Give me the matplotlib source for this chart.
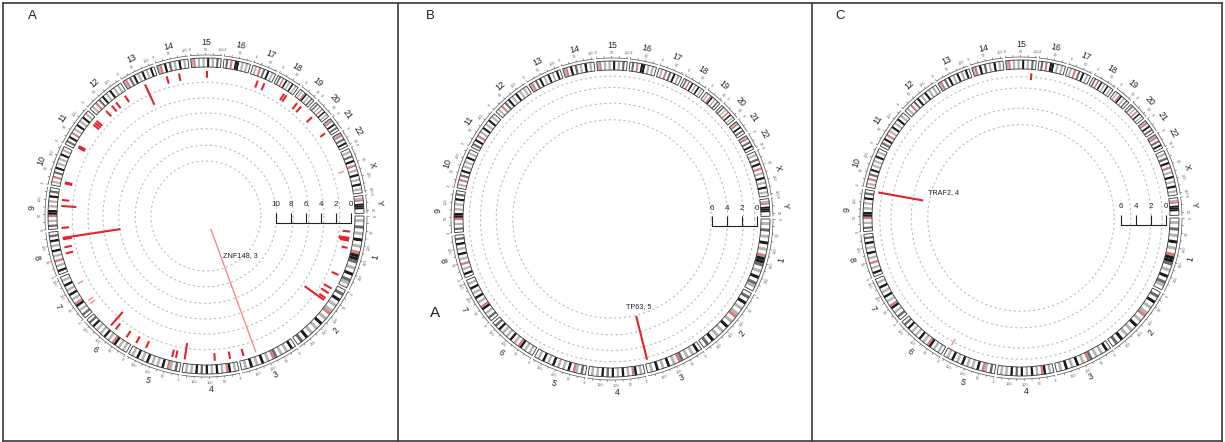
import matplotlib.pyplot as plt
import numpy as np
from matplotlib.lines import Line2D

plt.rcParams['font.family'] = ['Liberation Sans', 'DejaVu Sans']

# hg19 chromosome sizes (Mb)
CHROMS = [str(i) for i in range(1, 23)] + ["X", "Y"]
CHROM_MB = [249.3, 243.2, 198.0, 191.2, 180.9, 171.1, 159.1, 146.4, 141.2, 135.5,
            135.0, 133.9, 115.2, 107.3, 102.5, 90.4, 81.2, 78.1, 59.1, 63.0,
            48.1, 51.3, 155.3, 59.4]
# rough G-band pattern per chromosome (. white, g gray, d dark, k black, r centromere)
BANDS = [".g.d.g.k.g.rkkd.g.k.dg.", ".d.k.g.gr.g.k.g.g.k.d.", ".k.g.g.dr.g.k.g.k.g.",
         ".g.kr.g.k.g.k.d.k.g.g.", ".d.gr.k.g.g.k.g.k.g.", ".g.g.kr.g.k.g.g.k.d.",
         ".d.g.kr.g.k.g.k.g.", ".k.g.r.g.k.g.k.d.", ".d.g.rkk.g.g.k.d.", ".g.r.d.k.g.g.k.g.",
         ".d.k.r.g.k.g.k.g.", ".g.r.d.k.g.k.g.g.", "gr.d.k.g.k.g.k.", "gr.k.d.g.k.g.",
         "gr.g.g.k.g.d.", ".d.r.kk.g.g.", ".g.r.d.k.g.", ".d.r.k.g.k.g.", ".g.rk.g.d.",
         ".d.g.r.k.g.", "gr.k.d.", "gr.d.k.", ".g.d.k.r.g.k.g.k.g.", ".gr.kkk.."]
BAND_COLORS = {".": "white", "g": "#b4b4b4", "d": "#6a6a6a", "k": "#1c1c1c", "r": "#d87a7a"}

# panel A: recurrent hits (chromosome, position Mb, value)
A_CHR = ["1", "1", "1", "1", "1", "1", "2", "2", "2", "2", "3", "4", "4", "4",
         "5", "5", "5", "5", "6", "6", "6", "8", "8", "8", "8", "9", "9", "9",
         "10", "10", "11", "11", "11", "11", "11", "12", "12", "12", "12", "13",
         "14", "14", "15", "17", "17", "18", "18", "19", "19", "20", "21"]
A_POS = [57, 80, 85, 90, 117, 221, 18, 38, 59, 68, 180, 23, 79, 189,
         21, 35, 136, 176, 27, 76, 98, 63, 86, 116, 121, 2, 82, 104,
         15, 19, 10, 16, 110, 119, 128, 34, 62, 82, 122, 63,
         23, 69, 55, 33, 59, 50, 60, 21, 40, 27, 31]
A_VAL = [1.0, 1.4, 1.4, 1.2, 0.8, 1.0, 1.2, 1.2, 1.0, 3.2, 1.0, 1.0, 1.0, 2.2,
         1.0, 1.0, 1.0, 1.0, 1.0, 1.0, 2.4, 1.0, 1.0, 1.2, 7.8, 1.0, 2.0, 1.0,
         1.0, 1.0, 1.0, 1.0, 1.0, 1.0, 1.0, 1.0, 1.0, 1.0, 1.0, 3.0,
         1.0, 1.0, 0.9, 1.0, 1.0, 1.0, 1.0, 1.0, 1.0, 1.0, 0.8]
A_WEAK_CHR = ["3", "7", "7", "7", "X"]
A_WEAK_POS = [133, 27, 41, 113, 68]
A_WEAK_VAL = [17.5, 0.8, 0.8, 0.8, 0.8]

B_CHR, B_POS, B_VAL = ["3"], [189.3], [6.0]
B_WEAK_CHR, B_WEAK_POS, B_WEAK_VAL = [], [], []

C_CHR, C_POS, C_VAL = ["9", "15"], [139.0, 89], [6.1, 0.9]
C_WEAK_CHR, C_WEAK_POS, C_WEAK_VAL = ["5"], [174], [1.0]

# labelled genes: text, chromosome, position, value
A_GENE = ("ZNF148, 3", "3", 133, 17.5)
B_GENE = ("TP63, 5", "3", 189.3, 6.0)
C_GENE = ("TRAF2, 4", "9", 139.0, 6.1)

A_SCALE = [0, 2, 4, 6, 8, 10]
B_SCALE = [0, 2, 4, 6]
C_SCALE = [0, 2, 4, 6]

A_RINGS = [1.5, 3.6, 5.6, 7.7, 9.9, 12.0]
B_RINGS = [0.3, 1.8, 3.9, 6.1]
C_RINGS = [0.5, 2.0, 4.7, 6.9]

# geometry (pixels)
W, H = 1225, 442
RMAX = 200
R0 = 145.0        # radius of value 0
UNIT = 7.5        # pixels per value unit
IDEO_R, IDEO_H = 149.0, 9.0
GAP = 1.0

deg_per_mb = (360 - GAP * len(CHROMS)) / sum(CHROM_MB)
start_deg = np.concatenate([[0], np.cumsum(np.array(CHROM_MB) * deg_per_mb + GAP)[:-1]])


def theta(ch, mb):
    i = CHROMS.index(ch)
    return np.deg2rad(start_deg[i] + mb * deg_per_mb)


def rad(v):
    return R0 - np.asarray(v, dtype=float) * UNIT


def label_rot(d):
    d = d % 360
    return 90 - d if 0 < d < 180 else -90 - d


fig = plt.figure(figsize=(W / 100, H / 100), dpi=100)


def panel(cx, cy, hits, weak, gene, gene_off, gene_ha, scale, rings, letter, letter_xy):
    rect = [(cx - RMAX) / W, (H - cy - RMAX) / H, 2 * RMAX / W, 2 * RMAX / H]
    ax = fig.add_axes(rect, projection='polar')
    ax.set_theta_zero_location('E')
    ax.set_theta_direction(-1)
    ax.set_ylim(0, RMAX)
    ax.axis('off')

    # dashed guide circles
    tt = np.linspace(0, 2 * np.pi, 500)
    for v in rings:
        ax.plot(tt, np.full_like(tt, rad(v)), color='#bdbdbd', lw=0.8,
                ls=(0, (2.0, 2.4)), zorder=1)

    # ideogram
    for i, ch in enumerate(CHROMS):
        t0 = np.deg2rad(start_deg[i])
        w = np.deg2rad(CHROM_MB[i] * deg_per_mb)
        pat = BANDS[i]
        seg = w / len(pat)
        ax.bar(t0 + np.arange(len(pat)) * seg, IDEO_H, width=seg, bottom=IDEO_R,
               align='edge', color=[BAND_COLORS[c] for c in pat], linewidth=0, zorder=2)
        ax.bar(t0, IDEO_H, width=w, bottom=IDEO_R, align='edge', fill=False,
               edgecolor='#333333', linewidth=0.6, zorder=3)
        # outer position scale
        arc = np.linspace(t0, t0 + w, 60)
        ax.plot(arc, np.full_like(arc, 161), color='#555555', lw=0.5, zorder=3)
        mbs = np.arange(0, CHROM_MB[i], 25)
        ax.vlines([theta(ch, m) for m in mbs], 161, 163, color='#555555', lw=0.4)
        for m in mbs[::2]:
            tm = theta(ch, m)
            ax.text(tm, 166.5, f"{int(m)}", fontsize=2.8, color='#666666',
                    ha='center', va='center', rotation=label_rot(np.rad2deg(tm)),
                    rotation_mode='anchor')
        mid = t0 + w / 2
        ax.text(mid, 174, ch, fontsize=6.3, color='#222222', ha='center', va='center',
                rotation=label_rot(np.rad2deg(mid)), rotation_mode='anchor')

    # data bars
    chs, pos, val = hits
    if chs:
        th = [theta(c, p) for c, p in zip(chs, pos)]
        ax.vlines(th, rad(val), R0, color='#e3222b', lw=1.5, zorder=4)
    chs, pos, val = weak
    if chs:
        th = [theta(c, p) for c, p in zip(chs, pos)]
        ax.vlines(th, rad(val), R0, color='#f08c8c', lw=1.0, zorder=4)

    text, gch, gpos, gval = gene
    ax.annotate(text, xy=(theta(gch, gpos), rad(gval)), xytext=gene_off,
                textcoords='offset points', fontsize=5.2, ha=gene_ha, va='center',
                color='#222222')

    # value scale bar
    ov = fig.add_axes(rect)
    ov.set_xlim(-RMAX, RMAX)
    ov.set_ylim(-RMAX, RMAX)
    ov.axis('off')
    ov.patch.set_visible(False)
    xs = rad(scale)
    ov.plot([xs.min(), xs.max()], [-6.5, -6.5], color='#222222', lw=0.8)
    ov.vlines(xs, -6.5, 3.5, color='#222222', lw=0.8)
    for v, x in zip(scale, xs):
        ov.text(x, 11, str(v), fontsize=5.8, ha='center', va='center', color='#222222')

    fig.text(letter_xy[0] / W, 1 - letter_xy[1] / H, letter, fontsize=9.5,
             ha='center', va='center', color='#222222')
    return ov


panel(206, 216, (A_CHR, A_POS, A_VAL), (A_WEAK_CHR, A_WEAK_POS, A_WEAK_VAL),
      A_GENE, (8.6, -19), 'left', A_SCALE, A_RINGS, "A", (32, 16))
panel(612, 219, (B_CHR, B_POS, B_VAL), (B_WEAK_CHR, B_WEAK_POS, B_WEAK_VAL),
      B_GENE, (1.8, 6.5), 'center', B_SCALE, B_RINGS, "B", (430, 16))
panel(1021, 218, (C_CHR, C_POS, C_VAL), (C_WEAK_CHR, C_WEAK_POS, C_WEAK_VAL),
      C_GENE, (3.6, 5.8), 'left', C_SCALE, C_RINGS, "C", (840, 16))

fig.text(435 / W, 1 - 313 / H, "A", fontsize=11, ha='center', va='center', color='#222222')

# panel frames
for x0, y0, x1, y1 in [(3, 3, 1222, 3), (3, 441, 1222, 441), (3, 3, 3, 441),
                       (1222, 3, 1222, 441), (398, 3, 398, 441), (812, 3, 812, 441)]:
    fig.add_artist(Line2D([x0 / W, x1 / W], [1 - y0 / H, 1 - y1 / H],
                          color='#3a3a3a', lw=1.2))

fig.savefig("out.png", dpi=100)
